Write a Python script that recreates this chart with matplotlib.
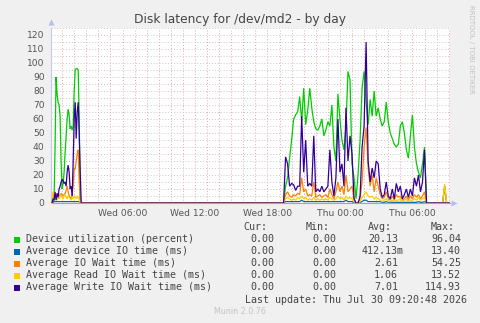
import numpy as np
import matplotlib
matplotlib.use('Agg')
import matplotlib.pyplot as plt
from matplotlib.patches import Rectangle
from matplotlib.ticker import MultipleLocator

# ---------------- data ----------------
# sample times in minutes since Wed 00:00 (5-min samples in first burst, 10-min in second)
left_start, left_step, left_n = 10, 5, 31
right_start, right_step, right_n = 1160, 10, 73
spike_times = [1950, 1960, 1970]
end_time = 1990

util_left = [0, 0, 2, 40, 90, 78, 72, 70, 62, 30, 10, 14, 22, 36, 48, 60, 67, 63, 53, 55,
             52, 55, 80, 95, 96, 96, 95, 60, 0, 0, 0]
devio_left = [0, 1, 1, 1, 1, 1, 1, 1, 1, 1, 1, 1, 1, 1, 1, 1, 1, 1, 1, 1,
              1, 1, 1, 1, 1, 1, 1, 1, 0, 0, 0]
iowait_left = [0, 6, 8, 3, 5, 3, 4, 6, 5, 7, 6, 5, 6, 7, 9, 12, 8, 5, 4, 3,
               6, 12, 25, 24, 30, 35, 38, 15, 3, 0, 0]
read_left = [0, 8, 8, 3, 4, 2, 5, 3, 4, 6, 4, 3, 5, 6, 4, 3, 5, 4, 3, 2,
             4, 3, 5, 4, 3, 5, 4, 2, 0, 0, 0]
write_left = [0, 3, 2, 8, 2, 7, 4, 10, 12, 15, 17, 16, 14, 15, 12, 22, 27, 22, 10, 12,
              5, 30, 60, 72, 46, 65, 72, 50, 22, 0, 0]

util_right = [0, 12, 18, 32, 45, 60, 63, 65, 76, 58,
              82, 56, 66, 82, 68, 58, 53, 52, 55, 60,
              48, 52, 58, 55, 70, 40, 30, 78, 60, 45,
              38, 55, 94, 88, 28, 18, 3, 20, 45, 82,
              94, 72, 56, 74, 62, 80, 62, 68, 60, 55,
              58, 72, 58, 50, 46, 42, 40, 42, 55, 58,
              50, 38, 32, 48, 63, 40, 28, 22, 18, 28,
              40, 0, 0]
devio_right = [0, 1, 1, 1, 1, 1, 1, 1, 1, 2,
               1, 1, 1, 1, 1, 1, 1, 1, 1, 1,
               1, 1, 1, 1, 1, 1, 1, 1, 1, 1,
               1, 2, 1, 1, 1, 0.5, 0, 0, 0.5, 1,
               2, 2, 1, 1, 1, 1, 1, 1, 1, 0.5,
               0.5, 1, 0.5, 0.5, 0.5, 0.5, 0.5, 0.5, 0.5, 0.5,
               0.5, 0.5, 0.5, 0.5, 0.5, 0.5, 0.5, 1, 0.5, 0.5,
               1, 0, 0]
iowait_right = [0, 6, 8, 5, 4, 6, 5, 7, 6, 18,
                8, 10, 5, 6, 5, 15, 4, 5, 6, 4,
                5, 6, 4, 10, 6, 3, 8, 15, 8, 12,
                6, 20, 8, 10, 12, 3, 0, 0, 3, 15,
                40, 54, 25, 12, 20, 8, 18, 12, 6, 3,
                4, 8, 3, 2, 5, 2, 6, 4, 5, 2,
                3, 5, 2, 5, 3, 6, 4, 6, 3, 5,
                8, 0, 0]
read_right = [0, 3, 4, 3, 2, 3, 2, 4, 3, 5,
              3, 4, 2, 3, 2, 4, 2, 3, 2, 3,
              2, 3, 2, 4, 3, 2, 3, 5, 3, 4,
              2, 5, 3, 4, 3, 1, 0, 0, 1, 4,
              6, 8, 5, 4, 5, 3, 4, 3, 2, 1,
              2, 3, 1, 1, 2, 1, 2, 2, 3, 1,
              2, 3, 1, 2, 2, 3, 2, 4, 2, 3,
              4, 0, 0]
write_right = [0, 33, 28, 12, 14, 13, 9, 12, 12, 62,
               22, 45, 12, 14, 12, 48, 8, 10, 8, 12,
               8, 10, 12, 38, 15, 5, 18, 60, 22, 28,
               12, 68, 30, 48, 35, 3, 0, 0, 5, 40,
               55, 115, 30, 15, 25, 18, 30, 28, 10, 4,
               6, 15, 5, 3, 10, 3, 14, 8, 12, 3,
               6, 10, 4, 10, 5, 18, 12, 20, 8, 15,
               38, 0, 0]

util_spike = [0, 0, 0]
devio_spike = [0, 12, 0]
iowait_spike = [0, 12, 0]
read_spike = [0, 13.5, 0]
write_spike = [0, 0, 0]

series_names = ["Device utilization (percent)", "Average device IO time (ms)",
                "Average IO Wait time (ms)", "Average Read IO Wait time (ms)",
                "Average Write IO Wait time (ms)"]
series_colors = ["#00cc00", "#0066b3", "#ff8000", "#ffcc00", "#330099"]
cur_vals = ["0.00", "0.00", "0.00", "0.00", "0.00"]
min_vals = ["0.00", "0.00", "0.00", "0.00", "0.00"]
avg_vals = ["20.13", "412.13m", "2.61", "1.06", "7.01"]
max_vals = ["96.04", "13.40", "54.25", "13.52", "114.93"]

xtick_hours = [6, 12, 18, 24, 30]
xtick_labels = ["Wed 06:00", "Wed 12:00", "Wed 18:00", "Thu 00:00", "Thu 06:00"]
yticks = list(range(0, 121, 10))

title = "Disk latency for /dev/md2 - by day"
last_update = "Last update: Thu Jul 30 09:20:48 2026"

# ---------------- figure ----------------
W, H = 481, 323
fig = plt.figure(figsize=(W / 100, H / 100), dpi=100, facecolor='#f0f0f0')
ax = fig.add_axes([50.5 / W, (H - 203) / H, 400 / W, 175 / H])
ax.set_facecolor('white')

t_min = np.concatenate([left_start + left_step * np.arange(left_n),
                        right_start + right_step * np.arange(right_n),
                        spike_times, [end_time]])
t_h = t_min / 60.0

def build(l, r, s):
    return np.concatenate([l, r, s, [0]])

all_series = [build(util_left, util_right, util_spike),
              build(devio_left, devio_right, devio_spike),
              build(iowait_left, iowait_right, iowait_spike),
              build(read_left, read_right, read_spike),
              build(write_left, write_right, write_spike)]

x0h = 6 - 72 / 12.08
x1h = 6 + 328 / 12.08
ax.set_xlim(x0h, x1h)
ax.set_ylim(0, 125)

# grid
ax.yaxis.set_minor_locator(MultipleLocator(5))
ax.xaxis.set_minor_locator(MultipleLocator(1))
ax.set_yticks(yticks)
ax.set_xticks(xtick_hours)
ax.set_xticklabels(xtick_labels)
ax.grid(which='both', axis='y', color='#c8c8c8', linestyle=(0, (1, 2)), linewidth=0.7)
ax.grid(which='both', axis='x', color='#e4a8a8', linestyle=(0, (1, 2)), linewidth=0.7)
ax.set_axisbelow(True)

for vals, col in zip(all_series, series_colors):
    ax.plot(t_h, vals, color=col, linewidth=0.9, solid_joinstyle='miter', zorder=3)

for s in ['top', 'right']:
    ax.spines[s].set_visible(False)
ax.spines['left'].set_color('#c8c8ec')
ax.spines['left'].set_linewidth(0.8)
ax.spines['bottom'].set_color('#a0a0e0')
ax.spines['bottom'].set_linewidth(0.8)
ax.spines['bottom'].set_zorder(2)

ax.tick_params(which='both', length=0)
ax.tick_params(axis='y', labelsize=6.6, labelcolor='#555555', pad=4.3)
ax.tick_params(axis='x', labelsize=6.6, labelcolor='#555555', pad=4.0)

# axis arrows
ax.plot([0], [1 + 6 / 175], marker='^', ms=4.5, color='#b8bcee', mec='none',
        transform=ax.transAxes, clip_on=False)
ax.plot([1 + 4 / 400], [0], marker='>', ms=4.5, color='#b8bcee', mec='none',
        transform=ax.transAxes, clip_on=False)

def px(x, y):
    return x / W, 1 - y / H

fig.text(*px(240, 19), title, ha='center', va='center', fontsize=8.8, color='#444444')
fig.text(*px(471.5, 5), "RRDTOOL / TOBI OETIKER", rotation=270, ha='center', va='top',
         fontsize=5.0, color='#c0c0c0')

mono = dict(family='DejaVu Sans Mono', fontsize=7.2, color='#444444', va='center')
hdr_y = 227.3
for txt, xr in zip(["Cur:", "Min:", "Avg:", "Max:"], [267.5, 329.5, 392, 454.5]):
    fig.text(*px(xr, hdr_y), txt, ha='right', **mono)

row_ys = [239.5, 251.5, 263.5, 275.5, 287.5]
for i, y in enumerate(row_ys):
    fig.patches.append(Rectangle(px(14, y + 3), 6 / W, 6 / H, transform=fig.transFigure,
                                 facecolor=series_colors[i], edgecolor='none'))
    fig.text(*px(26, y), series_names[i], ha='left', **mono)
    fig.text(*px(274, y), cur_vals[i], ha='right', **mono)
    fig.text(*px(336, y), min_vals[i], ha='right', **mono)
    a = avg_vals[i]
    fig.text(*px(404 if a.endswith('m') else 398, y), a, ha='right', **mono)
    fig.text(*px(461, y), max_vals[i], ha='right', **mono)

fig.text(*px(467, 300), last_update, ha='right', **mono)
fig.text(*px(240, 312), "Munin 2.0.76", ha='center', va='center', fontsize=5.8, color='#c4c4c4')

fig.savefig('out.png', dpi=100, facecolor=fig.get_facecolor())
